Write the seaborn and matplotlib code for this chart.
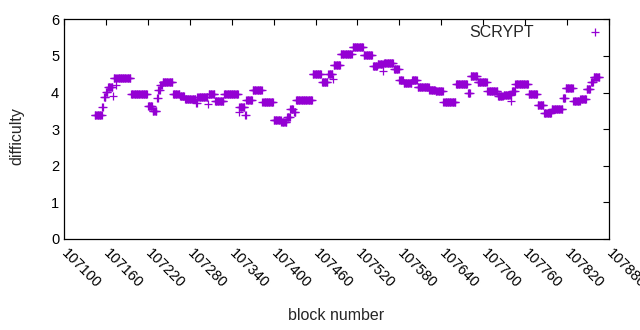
import numpy as np
import pandas as pd
import matplotlib
matplotlib.use("Agg")
import matplotlib.pyplot as plt
import seaborn as sns

sns.set_style("white")
plt.rcParams['font.family'] = ['Liberation Sans', 'DejaVu Sans']

seg_start = [107144, 107155, 107157, 107160, 107163, 107170, 107171, 107175, 107176, 107196,
             107220, 107227, 107233, 107235, 107238, 107241, 107256, 107266, 107273, 107289,
             107291, 107306, 107307, 107316, 107329, 107350, 107351, 107359, 107361, 107370,
             107384, 107400, 107411, 107419, 107424, 107429, 107432, 107456, 107469, 107478,
             107485, 107486, 107496, 107513, 107529, 107542, 107549, 107557, 107558, 107572,
             107580, 107586, 107598, 107606, 107623, 107632, 107643, 107661, 107678, 107682,
             107692, 107706, 107721, 107729, 107740, 107741, 107746, 107765, 107778, 107787,
             107798, 107814, 107818, 107829, 107839, 107848, 107854, 107858]
seg_end = [107154, 107156, 107159, 107162, 107169, 107170, 107174, 107175, 107195, 107219,
           107226, 107232, 107234, 107237, 107240, 107255, 107265, 107272, 107288, 107290,
           107305, 107306, 107315, 107328, 107349, 107350, 107358, 107360, 107369, 107383,
           107399, 107410, 107418, 107423, 107428, 107431, 107455, 107468, 107477, 107484,
           107485, 107495, 107512, 107528, 107541, 107548, 107556, 107557, 107571, 107579,
           107585, 107597, 107605, 107622, 107631, 107642, 107660, 107677, 107681, 107691,
           107705, 107720, 107728, 107739, 107740, 107745, 107764, 107777, 107786, 107797,
           107813, 107817, 107828, 107838, 107847, 107853, 107857, 107866]
seg_value = [3.38, 3.60, 3.87, 4.01, 4.15, 3.90, 4.39, 4.20, 4.40, 3.96,
             3.64, 3.50, 3.84, 4.06, 4.20, 4.28, 3.96, 3.90, 3.81, 3.72,
             3.87, 3.68, 3.95, 3.78, 3.95, 3.46, 3.60, 3.40, 3.80, 4.07,
             3.75, 3.25, 3.20, 3.33, 3.55, 3.47, 3.80, 4.50, 4.28, 4.50,
             4.38, 4.75, 5.05, 5.23, 5.02, 4.73, 4.77, 4.58, 4.80, 4.65,
             4.35, 4.27, 4.33, 4.15, 4.08, 4.05, 3.75, 4.23, 4.00, 4.45,
             4.30, 4.03, 3.90, 3.92, 3.76, 4.05, 4.23, 3.95, 3.65, 3.45,
             3.55, 3.85, 4.13, 3.78, 3.82, 4.10, 4.30, 4.42]

blocks = np.concatenate([np.arange(s, e + 1) for s, e in zip(seg_start, seg_end)])
diffs = np.repeat(seg_value, [e - s + 1 for s, e in zip(seg_start, seg_end)])
df = pd.DataFrame({'block': blocks, 'difficulty': diffs})

fig = plt.figure(figsize=(6.4, 3.3), dpi=100)
ax = fig.add_axes([0.1, 0.2758, 0.8516, 0.6657])

sns.scatterplot(data=df, x='block', y='difficulty', ax=ax, marker='+',
                color='#9400d3', s=30, linewidth=0.9, label='SCRYPT')

ax.set_xlim(107100, 107880)
ax.set_ylim(0, 6)
ax.set_xticks(np.arange(107100, 107881, 60))
ax.set_yticks(range(0, 7))
ax.tick_params(direction='in', length=4, width=0.8, top=True, right=True,
               labelsize=10.5, colors='black')
ax.tick_params(axis='x', pad=9)
for lab in ax.get_xticklabels():
    lab.set_rotation(-45)
    lab.set_ha('left')
    lab.set_va('center')
    lab.set_rotation_mode('anchor')
for sp in ax.spines.values():
    sp.set_color('black')
    sp.set_linewidth(0.9)

ax.set_xlabel('block number', fontsize=11.5, labelpad=12)
ax.set_ylabel('difficulty', fontsize=11.5)
ax.yaxis.set_label_coords(-0.073, 0.47)

ax.legend(loc='upper right', markerfirst=False, frameon=False, fontsize=11.5,
          handlelength=1.2, handletextpad=3.25, borderaxespad=0.0,
          bbox_to_anchor=(1.004, 1.005))

fig.savefig('out.png', dpi=100)
